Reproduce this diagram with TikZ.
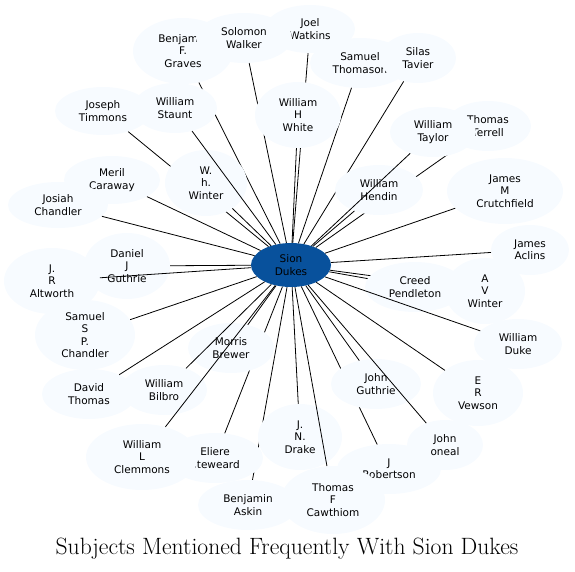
\documentclass[tikz,border=0pt]{standalone}
\usepackage{fontspec}
\newfontfamily\nodefont{DejaVu Sans}
\usetikzlibrary{shapes.geometric}
\definecolor{bl1}{HTML}{F7FBFF}
\definecolor{bl8}{HTML}{08519C}
\tikzset{
  nd/.style={ellipse, fill=bl1, inner sep=0pt, align=center,
    font=\nodefont\fontsize{10.5}{12.3}\selectfont},
  hub/.style={ellipse, fill=bl8, inner sep=0pt, align=center,
    minimum width=80pt, minimum height=44pt,
    font=\nodefont\fontsize{10.5}{12.3}\selectfont},
  ed/.style={draw=black, line width=0.8pt},
}
\newcommand{\nn}[6]{% name, x, y, rx, ry, text
  \node[nd, minimum width=#4*2pt, minimum height=#5*2pt] (#1) at (#2,#3) {#6};
  \draw[ed] (c) -- (#1);}
\begin{document}
\begin{tikzpicture}[x=1pt,y=-1pt]
\useasboundingbox (0,0) rectangle (575,571);
\node[hub] (c) at (291,265) {Sion\\Dukes};
\nn{joel}{310}{29}{45}{24}{Joel\\Watkins}
\nn{graves}{183}{51}{50}{33}{Benjamin\\F.\\Graves}
\nn{solomon}{244}{38}{48}{25}{Solomon\\Walker}
\nn{sthom}{360}{63}{50}{25}{Samuel\\Thomason}
\nn{silas}{418}{58}{38}{25}{Silas\\Tavier}
\nn{white}{298}{115}{43}{33}{William\\H\\White}
\nn{timmons}{103}{111}{48}{24}{Joseph\\Timmons}
\nn{whw}{206}{183}{41}{33}{W.\\h.\\Winter}
\nn{staunt}{175}{108}{42}{25}{William\\Staunt}
\nn{terrell}{488}{126}{43}{25}{Thomas\\Terrell}
\nn{hendin}{379}{190}{44}{25}{William\\Hendin}
\nn{taylor}{433}{132}{43}{25}{William\\Taylor}
\nn{crutch}{505}{191}{58}{33}{James\\M\\Crutchfield}
\nn{meril}{112}{180}{48}{24}{Meril\\Caraway}
\nn{josiah}{58}{205}{50}{23}{Josiah\\Chandler}
\nn{daniel}{127}{266}{43}{33}{Daniel\\J\\Guthrie}
\nn{altworth}{52}{281}{48}{33}{J.\\R\\Altworth}
\nn{sspc}{85}{335}{50}{35}{Samuel\\S\\P.\\Chandler}
\nn{aclins}{530}{250}{39}{25}{James\\Aclins}
\nn{avw}{485}{291}{40}{33}{A\\V\\Winter}
\nn{creed}{415}{287}{50}{25}{Creed\\Pendleton}
\nn{duke}{518}{344}{44}{25}{William\\Duke}
\nn{david}{89}{394}{47}{25}{David\\Thomas}
\nn{askin}{248}{505}{50}{25}{Benjamin\\Askin}
\nn{eliere}{215}{458}{48}{25}{Eliere\\Steweard}
\nn{morris}{231}{348}{43}{25}{Morris\\Brewer}
\nn{bilbro}{164}{390}{43}{25}{William\\Bilbro}
\nn{clemmons}{142}{457}{56}{33}{William\\L\\Clemmons}
\nn{vewson}{478}{393}{45}{33}{E\\R\\Vewson}
\nn{robertson}{389}{469}{52}{25}{J\\Robertson}
\nn{jguthrie}{376}{384}{45}{25}{John\\Guthrie}
\nn{oneal}{445}{445}{38}{25}{John\\oneal}
\nn{drake}{300}{437}{42}{33}{J.\\N.\\Drake}
\nn{cawthiom}{333}{500}{52}{34}{Thomas\\F\\Cawthiom}
\node (title) at (287,549) {\fontsize{23.6}{28}\selectfont Subjects Mentioned Frequently With Sion Dukes};
\end{tikzpicture}
\end{document}
